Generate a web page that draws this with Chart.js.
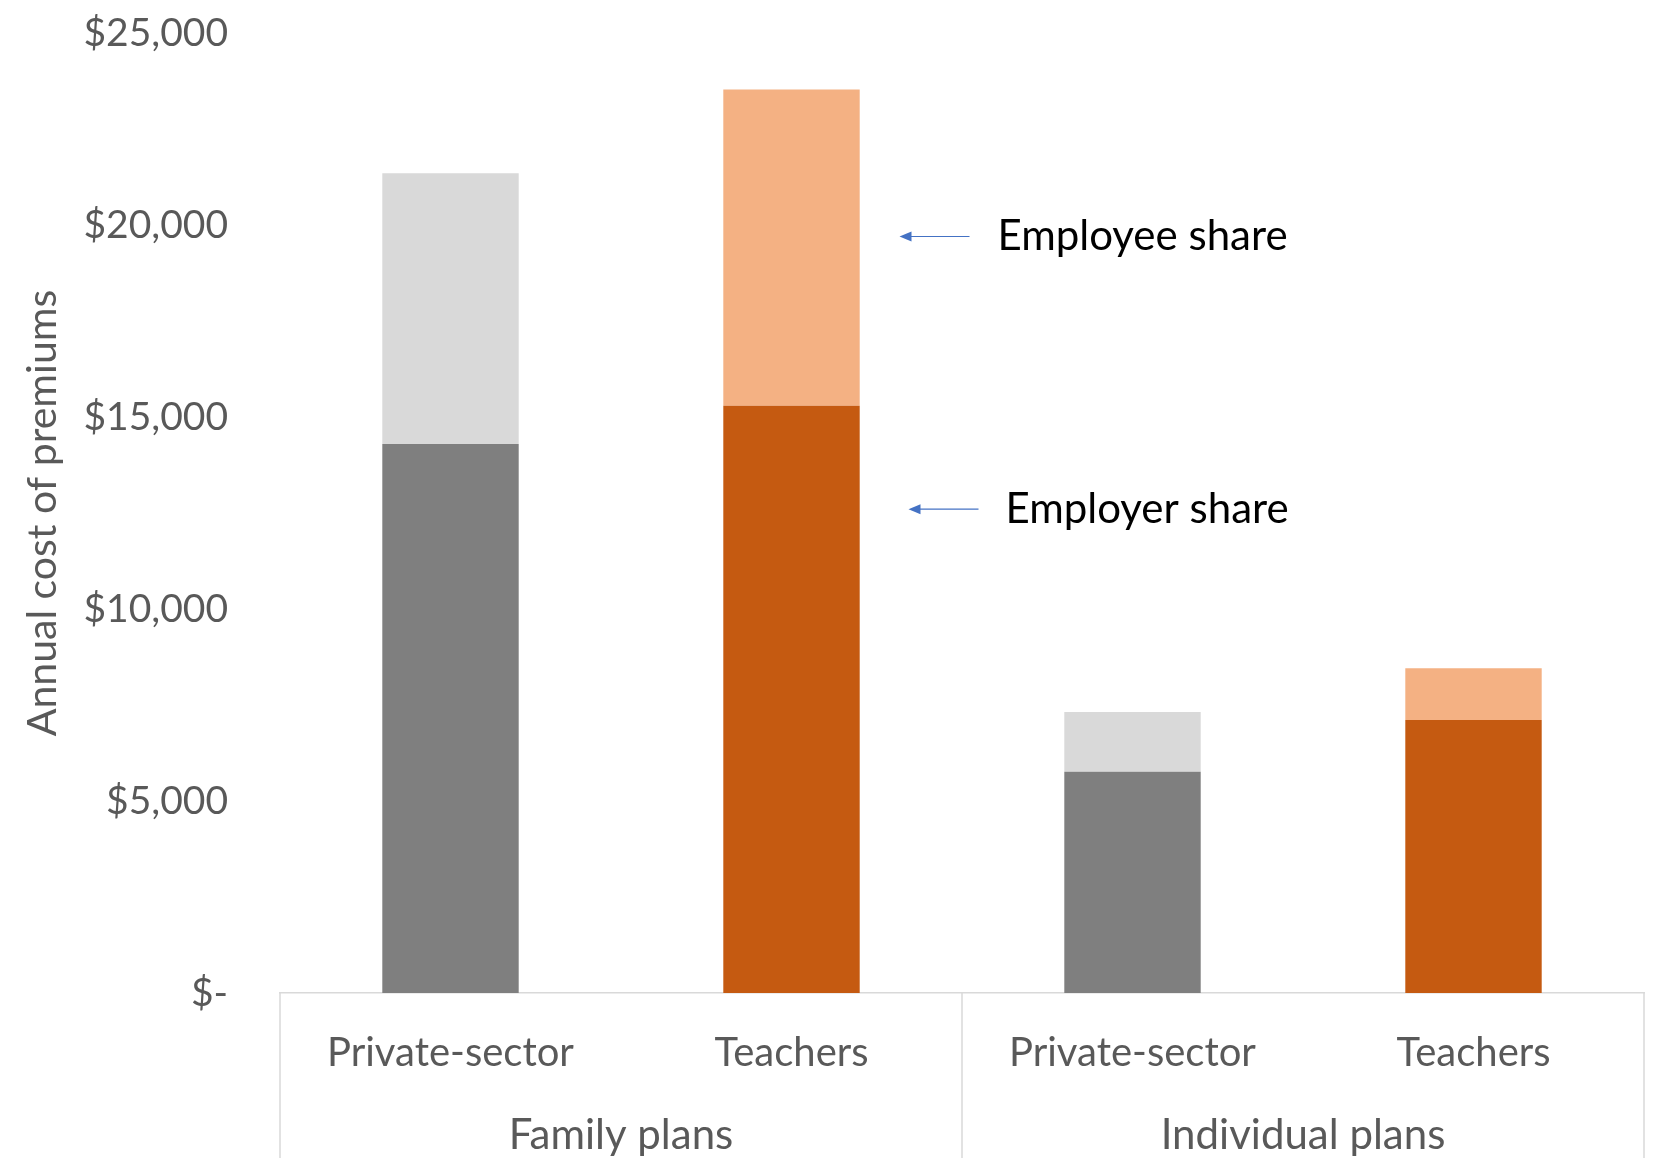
<!DOCTYPE html>
<html>
<head>
<meta charset="utf-8">
<script src="https://cdn.jsdelivr.net/npm/chart.js@4.4.1/dist/chart.umd.min.js"></script>
<style>
  html, body { margin: 0; padding: 0; background: #fff; }
  canvas { display: block; }
</style>
</head>
<body>
<canvas id="chart-premiums" width="1658" height="1158"></canvas>
<script>
const categories = ['Private-sector', 'Teachers', 'Private-sector', 'Teachers'];
const groups = ['Family plans', 'Individual plans'];
const employerShare = [14300, 15290, 5760, 7110];
const employeeShare = [7050, 8240, 1560, 1350];
const yTicks = [0, 5000, 10000, 15000, 20000, 25000];

const FONT = 'Lato';
const TEXT_GRAY = '#595959';

function money(v) {
  return v === 0 ? '$-' : '$' + v.toLocaleString('en-US');
}

// group labels, separators and the two arrow notes
const extras = {
  id: 'extras',
  afterDraw(chart) {
    const ctx = chart.ctx;
    const x = chart.scales.x;
    const y = chart.scales.y;
    const area = chart.chartArea;
    const mid = (x.getPixelForValue(1) + x.getPixelForValue(2)) / 2;

    ctx.save();
    ctx.strokeStyle = '#d9d9d9';
    ctx.lineWidth = 1.5;
    [area.left, mid, area.right].forEach(px => {
      ctx.beginPath();
      ctx.moveTo(px, area.bottom);
      ctx.lineTo(px, chart.height);
      ctx.stroke();
    });

    ctx.fillStyle = TEXT_GRAY;
    ctx.font = '42px ' + FONT;
    ctx.textAlign = 'center';
    ctx.textBaseline = 'middle';
    ctx.fillText(groups[0], (area.left + mid) / 2, area.bottom + 142);
    ctx.fillText(groups[1], (mid + area.right) / 2, area.bottom + 142);

    const notes = [
      { text: 'Employee share', value: 19700, from: 178, to: 108, textX: 206 },
      { text: 'Employer share', value: 12600, from: 187, to: 117, textX: 214 }
    ];
    const base = x.getPixelForValue(1);
    notes.forEach(n => {
      const py = y.getPixelForValue(n.value);
      ctx.strokeStyle = '#4472c4';
      ctx.fillStyle = '#4472c4';
      ctx.lineWidth = 1.2;
      ctx.beginPath();
      ctx.moveTo(base + n.from, py);
      ctx.lineTo(base + n.to + 8, py);
      ctx.stroke();
      ctx.beginPath();
      ctx.moveTo(base + n.to, py);
      ctx.lineTo(base + n.to + 12, py - 5);
      ctx.lineTo(base + n.to + 12, py + 5);
      ctx.closePath();
      ctx.fill();

      ctx.fillStyle = '#000';
      ctx.font = '42px ' + FONT;
      ctx.textAlign = 'left';
      ctx.fillText(n.text, base + n.textX, py);
    });
    ctx.restore();
  }
};

new Chart(document.getElementById('chart-premiums'), {
  type: 'bar',
  data: {
    labels: categories,
    datasets: [
      {
        label: 'Employer share',
        data: employerShare,
        backgroundColor: ['#7f7f7f', '#c55a11', '#7f7f7f', '#c55a11'],
        categoryPercentage: 1,
        barPercentage: 0.4
      },
      {
        label: 'Employee share',
        data: employeeShare,
        backgroundColor: ['#d9d9d9', '#f4b183', '#d9d9d9', '#f4b183'],
        categoryPercentage: 1,
        barPercentage: 0.4
      }
    ]
  },
  options: {
    responsive: false,
    animation: false,
    devicePixelRatio: 1,
    layout: { padding: { top: 33, right: 14, left: 0, bottom: 0 } },
    plugins: {
      legend: { display: false },
      tooltip: { enabled: false }
    },
    scales: {
      x: {
        stacked: true,
        afterFit: s => { s.height = 165; },
        grid: { display: false, drawTicks: false },
        border: { display: true, color: '#d9d9d9', width: 1.5 },
        ticks: { color: TEXT_GRAY, font: { family: FONT, size: 40 }, padding: 36 }
      },
      y: {
        stacked: true,
        min: 0,
        max: 25000,
        afterFit: s => { s.width = 280; s.paddingTop = 0; },
        afterBuildTicks: s => { s.ticks = yTicks.map(v => ({ value: v })); },
        grid: { display: false, drawTicks: false },
        border: { display: false },
        ticks: {
          color: TEXT_GRAY,
          font: { family: FONT, size: 39 },
          padding: 52,
          callback: v => money(v)
        },
        title: {
          display: true,
          text: 'Annual cost of premiums',
          color: TEXT_GRAY,
          font: { family: FONT, size: 41 },
          padding: { top: 18, bottom: 0 }
        }
      }
    }
  },
  plugins: [extras]
});
</script>
</body>
</html>
